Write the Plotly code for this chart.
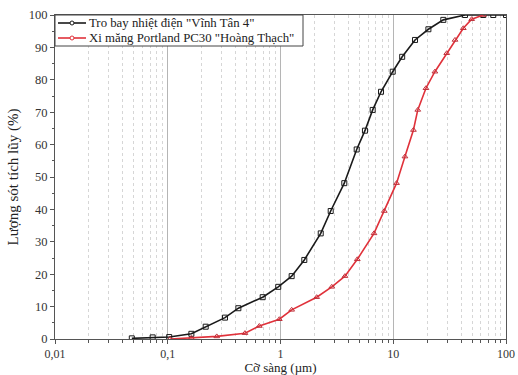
import plotly.graph_objects as go

# Cumulative retained (%) vs. sieve size (µm)
fly_ash_size = [0.048, 0.0735, 0.103, 0.162, 0.217, 0.322, 0.423, 0.695, 0.955, 1.256,
                1.626, 2.274, 2.787, 3.68, 4.74, 5.61, 6.57, 7.79, 9.89, 12.0,
                15.6, 20.5, 27.8, 43.3, 62.9, 77.1, 100.0]
fly_ash_pct = [0.2, 0.5, 0.6, 1.6, 3.8, 6.6, 9.5, 12.9, 16.1, 19.4,
               24.4, 32.6, 39.5, 48.1, 58.5, 64.3, 70.7, 76.3, 82.5, 87.1,
               92.3, 95.6, 98.5, 100.0, 100.0, 100.0, 100.0]

cement_size = [0.105, 0.162, 0.272, 0.484, 0.649, 0.976, 1.256, 2.094, 2.85, 3.73,
               4.80, 6.75, 8.33, 10.7, 12.7, 15.1, 16.5, 19.5, 23.4, 29.8,
               35.3, 41.8, 49.6, 62.9]
cement_pct = [0.0, 0.3, 0.8, 1.8, 4.0, 6.1, 9.0, 12.9, 16.1, 19.4,
              24.6, 32.6, 39.5, 48.1, 56.3, 64.5, 70.7, 77.4, 82.5, 88.2,
              92.3, 95.9, 98.7, 100.0]

x_tick_vals = [0.01, 0.1, 1, 10, 100]
x_tick_text = ["0,01", "0,1", "1", "10", "100"]
y_tick_vals = [0, 10, 20, 30, 40, 50, 60, 70, 80, 90, 100]

series_names = ['Tro bay nhiệt điện "Vĩnh Tân 4"',
                'Xi măng Portland PC30 "Hoàng Thạch"']
series_colors = ["#1a1a1a", "#e0313a"]

FONT = "Liberation Serif"
W, H = 518, 375
M = dict(l=55, r=12, t=15, b=36)

fig = go.Figure()
fig.add_trace(go.Scatter(
    x=fly_ash_size, y=fly_ash_pct, name=series_names[0], mode="lines+markers",
    line=dict(color=series_colors[0], width=1.6),
    marker=dict(symbol="square-open", size=5, color=series_colors[0], line=dict(width=1)),
))
fig.add_trace(go.Scatter(
    x=cement_size, y=cement_pct, name=series_names[1], mode="lines+markers",
    line=dict(color=series_colors[1], width=1.6),
    marker=dict(symbol="triangle-up-open", size=5, color="#c0303a", line=dict(width=1)),
))

# compact boxed legend in the upper-left corner of the plot
pw = W - M["l"] - M["r"]
ph = H - M["t"] - M["b"]
def px_x(p):
    return p / pw
def px_y(p):
    return 1 - p / ph

fig.add_shape(type="rect", xref="paper", yref="paper",
              x0=0, x1=px_x(248), y0=px_y(31), y1=1,
              line=dict(color="#444444", width=1), fillcolor="white", layer="above")
for i, (name, col) in enumerate(zip(series_names, series_colors)):
    yy = px_y(8 + 15 * i)
    fig.add_shape(type="line", xref="paper", yref="paper",
                  x0=px_x(3), x1=px_x(31), y0=yy, y1=yy,
                  line=dict(color=col, width=1.6), layer="above")
    fig.add_shape(type="circle", xref="paper", yref="paper",
                  x0=px_x(15), x1=px_x(19), y0=yy - 2 / ph, y1=yy + 2 / ph,
                  line=dict(color=col, width=1), fillcolor="white", layer="above")
    fig.add_annotation(text=name, xref="paper", yref="paper", x=px_x(32), y=yy,
                       xanchor="left", yanchor="middle", showarrow=False,
                       font=dict(family=FONT, size=12.8, color="#222222"))

# minor positions 2..9 within each decade
minor_x = [m * 10.0 ** e for e in range(-2, 2) for m in range(2, 10)]

fig.update_layout(
    width=W, height=H,
    margin=M,
    paper_bgcolor="white", plot_bgcolor="white",
    font=dict(family=FONT, size=12, color="#222222"),
    showlegend=False,
    xaxis=dict(
        type="log", range=[-2, 2], automargin=False,
        tickmode="array", tickvals=x_tick_vals, ticktext=x_tick_text,
        ticks="outside", ticklen=4, tickcolor="#555555",
        showline=True, linecolor="#555555", linewidth=1, mirror=True,
        showgrid=True, gridcolor="#b5b5b5", gridwidth=1,
        minor=dict(tickvals=minor_x, ticks="outside", ticklen=3, tickcolor="#555555",
                   showgrid=True, gridcolor="#d6d6d6", griddash="dot", gridwidth=1),
        zeroline=False,
        title=dict(text="Cỡ sàng (µm)", font=dict(family=FONT, size=13), standoff=3),
        tickfont=dict(family=FONT, size=12, color="#333333"),
    ),
    yaxis=dict(
        range=[0, 100], automargin=False,
        tickmode="array", tickvals=y_tick_vals,
        ticks="outside", ticklen=4, tickcolor="#555555",
        showline=True, linecolor="#555555", linewidth=1, mirror=True,
        showgrid=False, zeroline=False,
        minor=dict(dtick=5, ticks="outside", ticklen=2, tickcolor="#555555", showgrid=False),
        title=dict(text="Lượng sót tích lũy (%)", font=dict(family=FONT, size=15), standoff=6),
        tickfont=dict(family=FONT, size=12.5, color="#333333"),
    ),
)

fig.write_html("out.html")
